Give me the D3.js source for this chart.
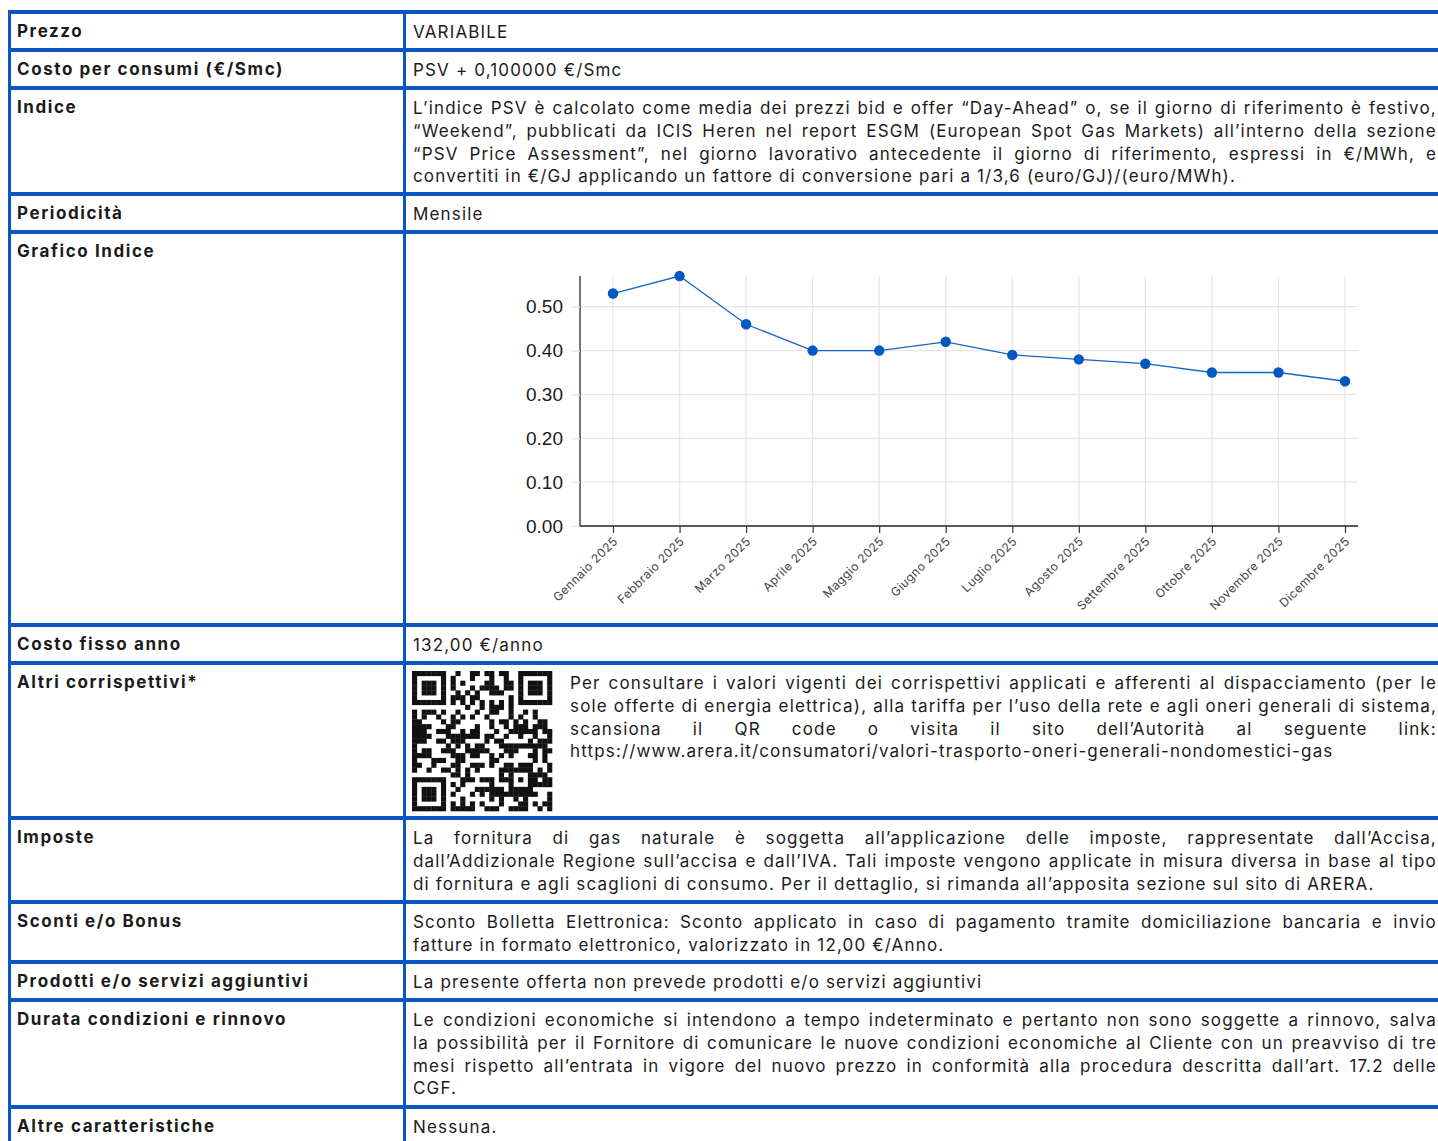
<!DOCTYPE html>
<html>
<head>
<meta charset="utf-8">
<script src="https://cdn.jsdelivr.net/npm/d3@7"></script>
<style>
body { margin: 0; background: #fff; overflow: hidden; }
#page { position: relative; width: 1438px; height: 1141px; overflow: hidden; font-family: Inter, "Open Sans", sans-serif; color: #1b1b1b; }
.hline, .vline { position: absolute; background: #0b56c0; }
.label { position: absolute; left: 17px; font-weight: 700; font-size: 17px; white-space: nowrap; }
.value { position: absolute; font-size: 17px; }
.line { display: flex; white-space: nowrap; height: 22.8px; line-height: 22.8px; }
.line.just { justify-content: space-between; }
.line.just span { display: block; }
svg { position: absolute; left: 0; top: 0; }
</style>
</head>
<body>
<div id="page"></div>
<script>
// dati del grafico
var months = ["Gennaio 2025", "Febbraio 2025", "Marzo 2025", "Aprile 2025", "Maggio 2025", "Giugno 2025",
	"Luglio 2025", "Agosto 2025", "Settembre 2025", "Ottobre 2025", "Novembre 2025", "Dicembre 2025"];
var psvValues = [0.53, 0.57, 0.46, 0.40, 0.40, 0.42, 0.39, 0.38, 0.37, 0.35, 0.35, 0.33];
var yTickValues = [0.00, 0.10, 0.20, 0.30, 0.40, 0.50];

// testi della tabella
var rowLabels = ["Prezzo", "Costo per consumi (€/Smc)", "Indice", "Periodicità", "Grafico Indice",
	"Costo fisso anno", "Altri corrispettivi*", "Imposte", "Sconti e/o Bonus",
	"Prodotti e/o servizi aggiuntivi", "Durata condizioni e rinnovo", "Altre caratteristiche"];
var rowTexts = [
	["VARIABILE"],
	["PSV + 0,100000 €/Smc"],
	["L’indice PSV è calcolato come media dei prezzi bid e offer “Day-Ahead” o, se il giorno di riferimento è festivo,",
	 "“Weekend”, pubblicati da ICIS Heren nel report ESGM (European Spot Gas Markets) all’interno della sezione",
	 "“PSV Price Assessment”, nel giorno lavorativo antecedente il giorno di riferimento, espressi in €/MWh, e",
	 "convertiti in €/GJ applicando un fattore di conversione pari a 1/3,6 (euro/GJ)/(euro/MWh)."],
	["Mensile"],
	[],
	["132,00 €/anno"],
	["Per consultare i valori vigenti dei corrispettivi applicati e afferenti al dispacciamento (per le",
	 "sole offerte di energia elettrica), alla tariffa per l’uso della rete e agli oneri generali di sistema,",
	 "scansiona il QR code o visita il sito dell’Autorità al seguente link:",
	 "https://www.arera.it/consumatori/valori-trasporto-oneri-generali-nondomestici-gas"],
	["La fornitura di gas naturale è soggetta all’applicazione delle imposte, rappresentate dall’Accisa,",
	 "dall’Addizionale Regione sull’accisa e dall’IVA. Tali imposte vengono applicate in misura diversa in base al tipo",
	 "di fornitura e agli scaglioni di consumo. Per il dettaglio, si rimanda all’apposita sezione sul sito di ARERA."],
	["Sconto Bolletta Elettronica: Sconto applicato in caso di pagamento tramite domiciliazione bancaria e invio",
	 "fatture in formato elettronico, valorizzato in 12,00 €/Anno."],
	["La presente offerta non prevede prodotti e/o servizi aggiuntivi"],
	["Le condizioni economiche si intendono a tempo indeterminato e pertanto non sono soggette a rinnovo, salva",
	 "la possibilità per il Fornitore di comunicare le nuove condizioni economiche al Cliente con un preavviso di tre",
	 "mesi rispetto all’entrata in vigore del nuovo prezzo in conformità alla procedura descritta dall’art. 17.2 delle",
	 "CGF."],
	["Nessuna."]
];

// layout
var rowBorders = [12, 50, 88, 194, 232, 625, 663, 818, 902, 962, 1000, 1107];
var colLeft = 9.5, colMid = 404.5;
var textTop = 9;
var valueLeft = 413, valueRight = 1437;
var plot = {left: 580, right: 1358, top: 276, bottom: 526};

// spaziatura per avvicinare la larghezza del font originale
var ctx = document.createElement("canvas").getContext("2d");
function spacingFor(font, sample, target) {
	ctx.font = font;
	var w = ctx.measureText(sample).width;
	return (target - w) / sample.length;
}
var bodySpacing = spacingFor("400 17px Inter", rowTexts[2][3], 823);
var boldSpacing = spacingFor("700 17px Inter", rowLabels[1], 267);

var page = d3.select("#page");

// bordi
page.selectAll(".hline")
	.data(rowBorders)
	.enter()
	.append("div")
	.attr("class", "hline")
	.style("left", "8px")
	.style("width", "1440px")
	.style("top", function(d) { return (d - 1.75) + "px"; })
	.style("height", "3.5px");

page.selectAll(".vline")
	.data([colLeft, colMid])
	.enter()
	.append("div")
	.attr("class", "vline")
	.style("left", function(d) { return (d - 1.75) + "px"; })
	.style("width", "3.5px")
	.style("top", rowBorders[0] - 1.75 + "px")
	.style("height", "1141px");

// etichette
page.selectAll(".label")
	.data(rowLabels)
	.enter()
	.append("div")
	.attr("class", "label")
	.style("letter-spacing", boldSpacing + "px")
	.style("top", function(d, i) { return (rowBorders[i] + textTop) + "px"; })
	.text(function(d) { return d; });

// valori
var values = page.selectAll(".value")
	.data(rowTexts)
	.enter()
	.append("div")
	.attr("class", "value")
	.style("letter-spacing", bodySpacing + "px")
	.style("top", function(d, i) { return (rowBorders[i] + textTop) + "px"; })
	.style("left", function(d, i) { return (i === 6 ? 570 : valueLeft) + "px"; })
	.style("width", function(d, i) { return (valueRight - (i === 6 ? 570 : valueLeft)) + "px"; });

values.each(function(lines) {
	var cell = d3.select(this);
	lines.forEach(function(txt, k) {
		var justify = k < lines.length - 1;
		var ln = cell.append("div").attr("class", justify ? "line just" : "line");
		if (justify) {
			ln.selectAll("span")
				.data(txt.split(" "))
				.enter()
				.append("span")
				.text(function(w) { return w; });
		} else {
			ln.text(txt);
		}
	});
});

// grafico
var svg = page.append("svg")
	.attr("width", 1438)
	.attr("height", 1141);

var x = d3.scalePoint()
	.domain(months)
	.range([plot.left + 33, plot.right - 13]);

var y = d3.scaleLinear()
	.domain([0, d3.max(psvValues)])
	.range([plot.bottom, plot.top]);

// griglia orizzontale
svg.append("g")
	.selectAll("line")
	.data(yTickValues.slice(1))
	.enter()
	.append("line")
	.attr("x1", plot.left)
	.attr("x2", plot.right)
	.attr("y1", function(d) { return y(d); })
	.attr("y2", function(d) { return y(d); })
	.attr("stroke", "#e6e6e6")
	.attr("stroke-width", 1.3);

// griglia verticale
svg.append("g")
	.selectAll("line")
	.data(months)
	.enter()
	.append("line")
	.attr("x1", function(d) { return x(d); })
	.attr("x2", function(d) { return x(d); })
	.attr("y1", plot.top)
	.attr("y2", plot.bottom)
	.attr("stroke", "#e6e6e6")
	.attr("stroke-width", 1.3);

// asse y
var yAxis = svg.append("g")
	.attr("transform", "translate(" + plot.left + ",0)")
	.call(d3.axisLeft(y)
		.tickValues(yTickValues)
		.tickSize(8)
		.tickPadding(9)
		.tickFormat(d3.format(".2f")));
yAxis.select(".domain")
	.attr("d", "M0," + plot.top + "V" + plot.bottom)
	.attr("stroke", "#444")
	.attr("stroke-width", 1.5);
yAxis.selectAll(".tick line").attr("stroke", "#e0e0e0").attr("stroke-width", 1.3);
yAxis.selectAll(".tick text")
	.attr("font-family", "'Liberation Sans', Arial, sans-serif")
	.attr("font-size", "19px")
	.attr("fill", "#1a1a1a");

// asse x
var xAxis = svg.append("g")
	.attr("transform", "translate(0," + plot.bottom + ")")
	.call(d3.axisBottom(x).tickSize(7).tickSizeOuter(0));
xAxis.select(".domain")
	.attr("d", "M" + plot.left + ",0H" + plot.right)
	.attr("stroke", "#222")
	.attr("stroke-width", 1.6);
xAxis.selectAll(".tick line").attr("stroke", "#333").attr("stroke-width", 1.2);
xAxis.selectAll(".tick text")
	.attr("font-family", "Inter, 'Open Sans', sans-serif")
	.attr("font-size", "12px")
	.attr("letter-spacing", "0.45px")
	.attr("fill", "#444")
	.attr("text-anchor", "end")
	.attr("y", 0)
	.attr("dy", "0.35em")
	.attr("transform", "translate(2,13) rotate(-45)");

// linea e punti
var line = d3.line()
	.x(function(d, i) { return x(months[i]); })
	.y(function(d) { return y(d); });

svg.append("path")
	.datum(psvValues)
	.attr("d", line)
	.attr("fill", "none")
	.attr("stroke", "#1565c8")
	.attr("stroke-width", 1.3);

svg.append("g")
	.selectAll("circle")
	.data(psvValues)
	.enter()
	.append("circle")
	.attr("cx", function(d, i) { return x(months[i]); })
	.attr("cy", function(d) { return y(d); })
	.attr("r", 5.2)
	.attr("fill", "#0058c0");

// QR code (motivo decorativo)
var qrN = 29, qrX = 412, qrY = 671, qrSize = 140, cellSz = qrSize / qrN;
function finder(r, c) {
	var list = [[0, 0], [0, qrN - 7], [qrN - 7, 0]];
	for (var k = 0; k < list.length; k++) {
		var rr = r - list[k][0], cc = c - list[k][1];
		if (rr >= -1 && rr <= 7 && cc >= -1 && cc <= 7) {
			if (rr < 0 || rr > 6 || cc < 0 || cc > 6) return 0;
			if (rr === 0 || rr === 6 || cc === 0 || cc === 6) return 1;
			if (rr >= 2 && rr <= 4 && cc >= 2 && cc <= 4) return 1;
			return 0;
		}
	}
	return -1;
}
var qrCells = [];
for (var r = 0; r < qrN; r++) {
	for (var c = 0; c < qrN; c++) {
		var f = finder(r, c), on;
		if (f >= 0) on = f;
		else if (r === 6) on = c % 2 === 0 ? 1 : 0;
		else if (c === 6) on = r % 2 === 0 ? 1 : 0;
		else if (Math.abs(r - 22) <= 2 && Math.abs(c - 22) <= 2) {
			var m = Math.max(Math.abs(r - 22), Math.abs(c - 22));
			on = m === 1 ? 0 : 1;
		} else {
			var h = (r * 73856093) ^ (c * 19349663) ^ (r * c * 83492791);
			on = ((h >>> 7) % 100) < 48 ? 1 : 0;
		}
		if (on) qrCells.push({r: r, c: c});
	}
}
svg.append("g")
	.selectAll("rect")
	.data(qrCells)
	.enter()
	.append("rect")
	.attr("x", function(d) { return qrX + d.c * cellSz; })
	.attr("y", function(d) { return qrY + d.r * cellSz; })
	.attr("width", cellSz + 0.3)
	.attr("height", cellSz + 0.3)
	.attr("fill", "#111");
</script>
</body>
</html>
